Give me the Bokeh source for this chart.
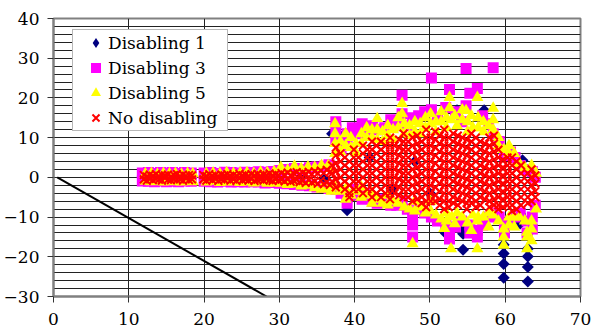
import math
from bokeh.plotting import figure
from bokeh.models import Range1d, SingleIntervalTicker, Legend, LegendItem, ColumnDataSource
from bokeh.embed import file_html
from bokeh.resources import INLINE

# Each series: list of (x, [y values observed at that x])
d1_cols = [
    (12.0, [0.0]), (15.0, [0.2]), (18.0, [-0.2]), (21.0, [0.0]), (24.0, [0.2]),
    (27.0, [-0.2]), (30.0, [0.0]), (33.0, [0.3]), (36.0, [-0.5]),
    (37.0, [11.0]), (37.8, [11.0]), (39.0, [-8.3]), (42.0, [5.0]), (45.0, [-3.0]),
    (48.0, [4.0]), (50.0, [-4.0]), (52.1, [-14.1]), (53.6, [16.9]),
    (54.4, [-12.5, -14.2, -18.2]), (57.2, [16.9]),
    (59.8, [-17.0, -19.2, -21.8, -25.3]), (62.0, [-9.2, -11.6]),
    (62.3, [4.3]), (63.0, [-18.0, -19.9, -22.6, -26.2]), (63.4, [2.0, -13.4]),
]

d3_cols = [
    (11.8, [1.1, -0.9]), (12.6, [1.2, -1.0]), (13.4, [1.0, -1.1]), (14.2, [1.2, -0.9]),
    (15.0, [1.1, -1.1]), (15.8, [1.2, -1.0]), (16.6, [1.0, -1.1]), (17.4, [1.2, -0.9]),
    (18.3, [1.1, -1.0]), (20.0, [1.1, -1.0]), (20.9, [1.2, -1.1]), (21.8, [1.0, -1.2]),
    (22.7, [1.3, -1.0]), (23.6, [1.2, -1.2]), (24.5, [1.1, -1.1]), (25.4, [1.3, -1.2]),
    (26.3, [1.2, -1.1]), (27.2, [1.4, -1.2]), (28.1, [1.3, -1.4]), (29.0, [1.5, -1.3]),
    (30.0, [1.7, -1.5]), (31.0, [2.0, -1.6]), (32.0, [2.2, -1.8]), (33.0, [2.0, -2.0]),
    (34.0, [2.4, -2.1]), (35.0, [2.6, -2.4]), (36.0, [2.8, -2.5]), (36.6, [3.2, -2.8]),
    (37.5, [14.0, 12.0, 9.0, -3.0]), (38.2, [7.0, -4.0]), (39.0, [11.0, 9.0, -6.5, -5.0]),
    (39.7, [12.5, -4.5]), (40.3, [11.0, -3.0]), (41.0, [13.5, -5.5]), (41.6, [11.0, -4.0]),
    (42.4, [13.0, -6.0]), (43.0, [12.0, -6.5]), (44.0, [12.5, -5.5]), (44.8, [14.5, -7.0]),
    (45.6, [13.0, -7.0]), (46.3, [20.7, 16.0, -6.0]), (47.0, [13.0, -8.0]),
    (47.7, [15.0, -10.0, -12.0, -15.0]), (48.5, [15.5, -8.0]), (49.3, [16.5, -9.0]),
    (50.2, [25.0, 17.0, -10.0]), (51.0, [15.0, -11.0]), (52.1, [17.6, -12.0]),
    (52.6, [22.1, -15.5, -13.0]), (53.4, [16.5, -12.5]), (54.2, [14.0, -11.0]),
    (54.8, [27.4, 18.0]), (55.3, [21.2, -14.0, -12.0]), (56.3, [22.4, -13.4, -15.0]),
    (57.0, [15.5, -12.0]), (57.8, [13.5, -10.0]), (58.4, [27.6, 11.0, -9.0]),
    (59.2, [9.0, -10.0]), (59.9, [5.5, -14.0, -12.0]), (60.7, [6.4, -11.0]),
    (61.3, [5.0, -10.0]), (62.0, [3.0, -9.0]), (62.9, [2.0, -14.0, -11.0]),
    (63.6, [1.5, -13.0, -10.0]), (64.0, [0.0, -7.0]),
]

d5_cols = [
    (12.2, [0.9, -1.0]), (13.0, [1.0, -1.1]), (13.8, [0.8, -1.0]), (14.6, [1.0, -1.2]),
    (15.4, [0.9, -1.0]), (16.2, [1.0, -1.1]), (17.0, [0.8, -1.2]), (17.8, [1.0, -1.0]),
    (18.5, [0.9, -1.1]), (20.3, [1.0, -1.2]), (21.2, [1.1, -1.0]), (22.1, [0.9, -1.3]),
    (23.0, [1.2, -1.2]), (23.9, [1.0, -1.1]), (24.8, [1.1, -1.3]), (25.7, [1.2, -1.2]),
    (26.6, [1.0, -1.4]), (27.5, [1.3, -1.2]), (28.4, [1.2, -1.5]), (29.3, [1.4, -1.4]),
    (30.2, [2.5, -1.5]), (31.1, [1.8, -1.8]), (32.0, [2.8, -1.7]), (32.9, [2.2, -2.2]),
    (33.8, [2.6, -2.0]), (34.7, [2.5, -2.6]), (35.6, [3.0, -3.0]), (36.5, [3.0, -2.8]),
    (36.9, [2.2, -3.5]),
    (37.4, [13.5, 11.0, 8.5, 6.0, -2.5]), (38.1, [9.0, 6.5, -3.5]),
    (38.8, [11.0, 8.0, -5.5, -3.0]), (39.5, [10.0, 7.5, -4.5]), (40.2, [8.5, 6.0, -3.5]),
    (40.9, [11.0, 8.5, -5.0, -2.5]), (41.6, [12.5, 10.0, -4.5]),
    (42.3, [12.0, 10.0, -6.5, -4.0]), (43.0, [14.8, 12.0, 9.5, -5.5]),
    (43.7, [11.5, 9.0, -6.5]), (44.4, [13.0, 10.5, -7.0, -4.5]), (45.1, [12.0, 9.5, -6.0]),
    (45.8, [15.0, 12.5, -6.5]), (46.3, [18.6, 16.0]), (46.6, [13.5, 11.0, -7.5]),
    (47.3, [13.0, 10.5, -8.0]), (47.7, [-16.7]), (48.0, [14.0, 11.5, -8.5, -6.0]),
    (48.7, [13.5, 11.0, -7.5]), (49.4, [15.0, 12.5, -9.0]), (50.1, [16.0, 13.5, -8.5, -6.0]),
    (50.8, [14.0, 11.5, -9.5]), (51.5, [16.5, 14.0, -10.5]), (51.9, [-12.9]),
    (52.2, [15.0, 12.5, -9.0, -11.0]), (52.6, [20.1, 17.5]), (52.8, [-18.0]),
    (52.9, [14.5, -10.0]), (53.3, [15.5, -11.7]), (53.6, [13.0, -9.0]),
    (54.3, [17.0, 14.5, -10.0]), (54.8, [16.8]), (55.0, [14.0, 11.5, -11.5]),
    (55.5, [15.5, -13.4]), (55.7, [12.5, -9.5]), (56.3, [20.1, -18.0, -11.0]),
    (56.4, [15.0, 12.5, -10.0]), (57.1, [14.0, 11.5, -10.0]), (57.8, [13.0, -12.5, -9.0]),
    (58.4, [17.4, 14.5, 12.0, -9.5]), (59.1, [10.0, 8.0, -11.0]),
    (59.8, [7.0, -13.0, -15.0, -17.1]), (60.5, [8.0, 6.0, -12.0, -10.0]),
    (61.2, [6.0, -12.5, -10.0]), (61.9, [3.5, -10.0]), (62.6, [2.5, -11.0]),
    (62.9, [-13.8, -15.0, -18.0]), (63.5, [3.0, -11.0, -13.0, -16.0]), (64.1, [1.0, -8.0]),
]

nd_cols = [
    (12.0, [0.6, -0.5]), (12.4, [0.2, -0.8]), (12.8, [0.7, -0.3]), (13.2, [0.4, -0.7]),
    (13.6, [0.8, -0.4]), (14.0, [0.3, -0.6]), (14.4, [0.6, -0.8]), (14.8, [0.5, -0.2]),
    (15.2, [0.7, -0.6]), (15.6, [0.2, -0.7]), (16.0, [0.6, -0.4]), (16.4, [0.8, -0.6]),
    (16.8, [0.3, -0.5]), (17.2, [0.7, -0.8]), (17.6, [0.4, -0.3]), (18.0, [0.6, -0.7]),
    (18.4, [0.5, -0.5]),
    (19.9, [0.6, -0.5]), (20.3, [0.3, -0.8]), (20.7, [0.8, -0.4]), (21.1, [0.4, -0.7]),
    (21.5, [0.6, -0.3]), (21.9, [0.2, -0.9]), (22.3, [0.7, -0.5]), (22.7, [0.5, -0.6]),
    (23.1, [0.8, -0.2]), (23.5, [0.3, -0.8]), (23.9, [0.6, -0.5]), (24.3, [0.4, -0.9]),
    (24.7, [0.9, -0.3]), (25.1, [0.5, -0.7]), (25.5, [0.7, -0.5]), (25.9, [0.3, -0.8]),
    (26.3, [0.8, -0.4]), (26.7, [0.5, -0.9]), (27.1, [0.9, -0.6]), (27.5, [0.4, -0.5]),
    (27.9, [0.7, -0.8]), (28.3, [0.6, -0.4]), (28.7, [1.0, -0.7]), (29.1, [0.5, -0.9]),
    (29.5, [0.8, -0.5]), (29.9, [0.6, -0.8]), (30.3, [1.1, -0.6]), (30.7, [0.7, -1.0]),
    (31.1, [1.2, -0.5]), (31.5, [0.5, -1.1]), (31.9, [1.0, -0.8]), (32.3, [1.3, -0.6]),
    (32.7, [0.7, -1.2]), (33.1, [1.2, -0.9]), (33.5, [0.9, -1.4]), (33.9, [1.4, -0.7]),
    (34.3, [0.8, -1.3]), (34.7, [1.5, -1.0]), (35.1, [1.0, -1.6]), (35.5, [1.7, -0.8]),
    (35.9, [1.1, -1.7]), (36.3, [1.9, -1.2]), (36.7, [1.3, -1.9]),
    (37.0, [3.0, 1.0, -1.0]),
    (37.5, [7.5, 5.5, 3.5, 1.5, -0.5, -2.5]),
    (38.1, [6.0, 4.0, 2.0, 0.0, -2.0]),
    (38.7, [5.0, 3.0, 1.0, -1.0, -3.0]),
    (39.3, [4.0, 2.0, 0.0, -2.0, -4.0, -5.0]),
    (39.9, [7.0, 5.0, 3.0, 1.0, -1.0, -3.0]),
    (40.5, [5.0, 3.0, 1.0, -1.0, -3.0]),
    (41.1, [8.0, 6.0, 4.0, 2.0, 0.0, -2.0, -4.0]),
    (41.7, [7.0, 5.0, 3.0, 1.0, -1.0, -3.0]),
    (42.3, [9.0, 7.0, 5.0, 3.0, 1.0, -1.0, -3.0, -5.0]),
    (42.9, [8.0, 6.0, 4.0, 2.0, 0.0, -2.0, -4.0]),
    (43.5, [9.0, 7.0, 5.0, 3.0, 1.0, -1.0, -3.0, -5.0]),
    (44.1, [8.0, 6.0, 4.0, 2.0, 0.0, -2.0, -4.0]),
    (44.7, [10.0, 8.0, 6.0, 4.0, 2.0, 0.0, -2.0, -4.0, -5.5]),
    (45.3, [8.0, 6.0, 4.0, 2.0, 0.0, -2.0, -4.0]),
    (45.9, [9.5, 7.5, 5.5, 3.5, 1.5, -0.5, -2.5, -4.5]),
    (46.5, [11.0, 9.0, 7.0, 5.0, 3.0, 1.0, -1.0, -3.0, -5.0]),
    (47.1, [9.0, 7.0, 5.0, 3.0, 1.0, -1.0, -3.0, -5.0]),
    (47.7, [10.0, 8.0, 6.0, 4.0, 2.0, 0.0, -2.0, -4.0, -6.0]),
    (48.3, [10.5, 8.5, 6.5, 4.5, 2.5, 0.5, -1.5, -3.5, -5.5]),
    (48.9, [9.0, 7.0, 5.0, 3.0, 1.0, -1.0, -3.0, -5.0, -6.5]),
    (49.5, [12.0, 10.0, 8.0, 6.0, 4.0, 2.0, 0.0, -2.0, -4.0, -6.0, -7.5]),
    (50.1, [10.0, 8.0, 6.0, 4.0, 2.0, 0.0, -2.0, -4.0, -6.0]),
    (50.7, [11.5, 9.5, 7.5, 5.5, 3.5, 1.5, -0.5, -2.5, -4.5, -6.0]),
    (51.3, [10.5, 8.5, 6.5, 4.5, 2.5, 0.5, -1.5, -3.5, -5.5, -7.0]),
    (51.9, [12.0, 10.0, 8.0, 6.0, 4.0, 2.0, 0.0, -2.0, -4.0, -6.0, -8.0]),
    (52.5, [10.0, 8.0, 6.0, 4.0, 2.0, 0.0, -2.0, -4.0, -6.0, -7.5]),
    (53.1, [11.0, 9.0, 7.0, 5.0, 3.0, 1.0, -1.0, -3.0, -5.0, -6.5]),
    (53.7, [10.5, 8.5, 6.5, 4.5, 2.5, 0.5, -1.5, -3.5, -5.5, -7.0]),
    (54.3, [10.0, 8.0, 6.0, 4.0, 2.0, 0.0, -2.0, -4.0, -6.0]),
    (54.9, [9.5, 7.5, 5.5, 3.5, 1.5, -0.5, -2.5, -4.5, -6.5, -8.0]),
    (55.5, [11.0, 9.0, 7.0, 5.0, 3.0, 1.0, -1.0, -3.0, -5.0, -6.5]),
    (56.1, [10.0, 8.0, 6.0, 4.0, 2.0, 0.0, -2.0, -4.0, -6.0, -7.5]),
    (56.7, [9.0, 7.0, 5.0, 3.0, 1.0, -1.0, -3.0, -5.0, -7.0]),
    (57.3, [8.5, 6.5, 4.5, 2.5, 0.5, -1.5, -3.5, -5.5]),
    (57.9, [10.0, 8.0, 6.0, 4.0, 2.0, 0.0, -2.0, -4.0, -6.0, -7.5]),
    (58.5, [10.5, 8.5, 6.5, 4.5, 2.5, 0.5, -1.5, -3.5, -5.5, -7.0]),
    (59.1, [7.0, 5.0, 3.0, 1.0, -1.0, -3.0, -5.0, -7.0, -8.0]),
    (59.7, [4.5, 2.5, 0.5, -1.5, -3.5, -5.5, -7.5]),
    (60.3, [5.0, 3.0, 1.0, -1.0, -3.0, -5.0, -7.0]),
    (60.9, [5.0, 3.0, 1.0, -1.0, -3.0, -5.0, -7.0, -8.5]),
    (61.5, [4.0, 2.0, 0.0, -2.0, -4.0, -6.0, -8.0]),
    (62.1, [3.0, 1.0, -1.0, -3.0, -5.0, -7.0]),
    (63.0, [1.0, -1.0, -3.0, -5.0, -6.5]),
    (63.5, [2.0, 0.0, -2.0, -4.0, -6.0]),
    (64.0, [0.5, -1.5, -3.5, -5.0]),
]

# Straight reference line
ref_x = [0.5, 28.3]
ref_y = [0.0, -30.0]

series_labels = ["Disabling 1", "Disabling 3", "Disabling 5", "No disabling"]


def flatten(cols):
    xs, ys = [], []
    for x, yvals in cols:
        for y in yvals:
            xs.append(x)
            ys.append(y)
    return ColumnDataSource(data=dict(x=xs, y=ys))


FONT = "DejaVu Serif"

p = figure(
    width=593, height=334,
    output_backend="svg", toolbar_location=None,
    x_range=Range1d(0, 70), y_range=Range1d(-30, 40),
    min_border_left=53, min_border_right=13,
    min_border_top=18, min_border_bottom=38,
)
p.background_fill_color = "white"
p.border_fill_color = "white"
p.outline_line_color = "#808080"
p.outline_line_width = 2

# grid
p.xgrid.ticker = SingleIntervalTicker(interval=10)
p.ygrid.ticker = SingleIntervalTicker(interval=2)
for g in (p.xgrid, p.ygrid):
    g.grid_line_color = "#222222"
    g.grid_line_width = 1

# axes
p.xaxis.ticker = SingleIntervalTicker(interval=10)
p.yaxis.ticker = SingleIntervalTicker(interval=10)
for ax in (p.xaxis, p.yaxis):
    ax.axis_line_color = "#808080"
    ax.axis_line_width = 2
    ax.major_tick_line_color = "#333333"
    ax.major_tick_in = 0
    ax.major_tick_out = 6
    ax.minor_tick_line_color = None
    ax.major_label_text_font = FONT
    ax.major_label_text_font_size = "17px"
    ax.major_label_text_color = "black"
p.yaxis.major_label_standoff = 8
p.xaxis.major_label_standoff = 10

src1 = flatten(d1_cols)
r1 = p.scatter("x", "y", source=src1, marker="square", angle=math.pi / 4,
               size=8.5, fill_color="#000080", line_color=None)
r3 = p.scatter("x", "y", source=flatten(d3_cols), marker="square",
               size=11, fill_color="#FF00FF", line_color=None)
r5 = p.scatter("x", "y", source=flatten(d5_cols), marker="triangle",
               size=12, fill_color="#FFFF00", line_color=None)
rn = p.scatter("x", "y", source=flatten(nd_cols), marker="x",
               size=11, line_color="#FF0000", line_width=2)

p.line(ref_x, ref_y, line_color="black", line_width=2)

# hidden diamond renderer over the first series, used only as its legend key
key1 = p.scatter("x", "y", source=src1, marker="diamond", size=12,
                 fill_color="#000080", line_color=None, visible=False)

legend = Legend(
    items=[LegendItem(label=lab, renderers=[r]) for lab, r in zip(series_labels, [key1, r3, r5, rn])],
    location=(19, 165),
    margin=0, padding=dict(left=10, right=10, top=0, bottom=0), spacing=0,
    glyph_width=25, glyph_height=25, label_height=25,
    label_standoff=-4,
    label_text_font=FONT, label_text_font_size="17px", label_text_color="black",
    border_line_color="#707070", border_line_width=1,
    background_fill_color="white", background_fill_alpha=1.0,
    inactive_fill_alpha=0.0,
)
p.add_layout(legend)

open("out.html", "w").write(file_html(p, INLINE))
